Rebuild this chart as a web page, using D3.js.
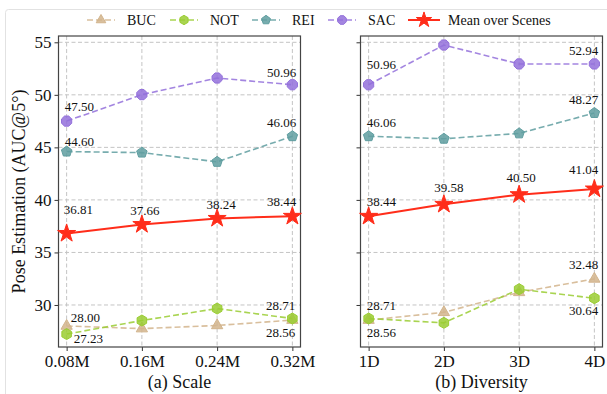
<!DOCTYPE html>
<html>
<head>
<meta charset="utf-8">
<script src="https://cdn.jsdelivr.net/npm/d3@7"></script>
<style>
  body { margin: 0; background: #fff; }
  svg { display: block; font-family: "Liberation Serif", "Times New Roman", serif; }
</style>
</head>
<body>
<div id="chart"></div>
<script>
// ---- data ----
const seriesNames = ['BUC', 'NOT', 'REI', 'SAC', 'Mean over Scenes'];

const scaleCats = ['0.08M', '0.16M', '0.24M', '0.32M'];
const scaleBUC  = [28.00, 27.75, 28.05, 28.56];
const scaleNOT  = [27.23, 28.52, 29.66, 28.71];
const scaleREI  = [44.60, 44.50, 43.62, 46.06];
const scaleSAC  = [47.50, 50.02, 51.60, 50.96];
const scaleMean = [36.81, 37.66, 38.24, 38.44];

const divCats = ['1D', '2D', '3D', '4D'];
const divBUC  = [28.56, 29.30, 31.20, 32.48];
const divNOT  = [28.71, 28.30, 31.50, 30.64];
const divREI  = [46.06, 45.82, 46.33, 48.27];
const divSAC  = [50.96, 54.74, 52.94, 52.94];
const divMean = [38.44, 39.58, 40.50, 41.04];

const yTicks = [30, 35, 40, 45, 50, 55];
const yDomain = [26.0, 55.6];

// ---- styling ----
const W = 607, H = 394;
const plotTop = 36, plotBottom = 347;
const panels = [
  { x0: 58.5, x1: 300.5, title: '(a) Scale', cats: scaleCats,
    values: [scaleBUC, scaleNOT, scaleREI, scaleSAC, scaleMean], yLabels: true },
  { x0: 360.5, x1: 602.5, title: '(b) Diversity', cats: divCats,
    values: [divBUC, divNOT, divREI, divSAC, divMean], yLabels: false }
];

const styles = [
  { color: '#d2b48c', marker: 'triangle', dash: '6,3', width: 1.6, r: 6.5 },
  { color: '#9acd32', marker: 'hexagon',  dash: '6,3', width: 1.6, r: 5.5 },
  { color: '#5f9ea0', marker: 'pentagon', dash: '6,3', width: 1.6, r: 5.5 },
  { color: '#9370db', marker: 'octagon',  dash: '6,3', width: 1.6, r: 5.5 },
  { color: '#ff2d1a', marker: 'star',     dash: null,  width: 2.0, r: 9.5 }
];

// label placement per panel: [seriesIndex, pointIndex, anchor, dx, dy]
const labelPlacement = [
  [
    [3, 0, 'start', -2, -10], [3, 3, 'end', 4, -8],
    [2, 0, 'start', -2, -6],  [2, 3, 'end', 4, -9],
    [4, 0, 'start', -3, -19], [4, 1, 'middle', 3, -9], [4, 2, 'middle', 4, -9], [4, 3, 'end', 4, -10],
    [1, 0, 'start', 7, 9],    [1, 3, 'end', 3, -9],
    [0, 0, 'start', 4, -4],   [0, 3, 'end', 3, 17]
  ],
  [
    [3, 0, 'start', -2, -16], [3, 3, 'end', 4, -9],
    [2, 0, 'start', -2, -9],  [2, 3, 'end', 4, -9],
    [4, 0, 'start', -2, -10], [4, 1, 'middle', 5, -12], [4, 2, 'middle', 2, -13], [4, 3, 'end', 4, -15],
    [1, 0, 'start', -2, -9],  [1, 3, 'end', 4, 17],
    [0, 0, 'start', -2, 17],  [0, 3, 'end', 4, -10]
  ]
];

function polygon(n, r, rot) {
  const pts = d3.range(n).map(i => {
    const a = rot + i * 2 * Math.PI / n;
    return [r * Math.sin(a), -r * Math.cos(a)];
  });
  return 'M' + pts.map(p => p.join(',')).join('L') + 'Z';
}

function markerPath(kind, r) {
  if (kind === 'triangle') return polygon(3, r, 0);
  if (kind === 'hexagon') return polygon(6, r, 0);
  if (kind === 'pentagon') return polygon(5, r, 0);
  if (kind === 'octagon') return polygon(8, r, Math.PI / 8);
  return d3.symbol(d3.symbolStar, r * r / 0.8908)();
}

const svg = d3.select('#chart').append('svg')
  .attr('width', W).attr('height', H);

// outer frame (legend box)
svg.append('rect')
  .attr('x', 5.5).attr('y', 9.5).attr('width', 700).attr('height', 500)
  .attr('rx', 3)
  .attr('fill', 'none').attr('stroke', '#e2e2e2').attr('stroke-width', 1);

const y = d3.scaleLinear().domain(yDomain).range([plotBottom, plotTop]);

panels.forEach((p, pi) => {
  const x = d3.scalePoint().domain(p.cats).range([p.x0, p.x1]).padding(0.108);
  const g = svg.append('g');

  // grid
  g.append('g').selectAll('line.gx').data(p.cats).join('line')
    .attr('x1', d => x(d)).attr('x2', d => x(d))
    .attr('y1', plotTop).attr('y2', plotBottom)
    .attr('stroke', '#c4c4c4').attr('stroke-width', 1).attr('stroke-dasharray', '4,2.5');
  g.append('g').selectAll('line.gy').data(yTicks).join('line')
    .attr('x1', p.x0).attr('x2', p.x1)
    .attr('y1', d => y(d)).attr('y2', d => y(d))
    .attr('stroke', '#c4c4c4').attr('stroke-width', 1).attr('stroke-dasharray', '4,2.5');

  // axes
  const yAxis = d3.axisLeft(y).tickValues(yTicks).tickSize(4).tickPadding(3)
    .tickFormat(p.yLabels ? d3.format('d') : () => '');
  const ya = g.append('g').attr('transform', `translate(${p.x0},0)`).call(yAxis);
  const xa = g.append('g').attr('transform', `translate(0,${plotBottom})`)
    .call(d3.axisBottom(x).tickSize(4).tickPadding(4));
  [ya, xa].forEach(a => {
    a.attr('font-family', null);
    a.select('.domain').remove();
    a.selectAll('line').attr('stroke', '#333').attr('stroke-width', 1);
    a.selectAll('text').attr('fill', '#111').style('font-size', '17px');
  });

  // frame
  g.append('rect')
    .attr('x', p.x0).attr('y', plotTop)
    .attr('width', p.x1 - p.x0).attr('height', plotBottom - plotTop)
    .attr('fill', 'none').attr('stroke', '#444').attr('stroke-width', 1.2);

  // series
  p.values.forEach((vals, si) => {
    const s = styles[si];
    const line = d3.line().x((d, i) => x(p.cats[i])).y(d => y(d));
    g.append('path').datum(vals)
      .attr('d', line)
      .attr('fill', 'none').attr('stroke', s.color)
      .attr('stroke-opacity', si === 4 ? 1 : 0.85)
      .attr('stroke-width', s.width)
      .attr('stroke-dasharray', s.dash);
    g.append('g').selectAll('path').data(vals).join('path')
      .attr('transform', (d, i) => `translate(${x(p.cats[i])},${y(d)})`)
      .attr('d', markerPath(s.marker, s.r))
      .attr('fill', s.color).attr('fill-opacity', si === 4 ? 1 : 0.85)
      .attr('stroke', s.color).attr('stroke-width', 1);
  });

  // value labels
  g.append('g').selectAll('text').data(labelPlacement[pi]).join('text')
    .attr('x', d => x(p.cats[d[1]]) + d[3])
    .attr('y', d => y(p.values[d[0]][d[1]]) + d[4])
    .attr('text-anchor', d => d[2])
    .attr('fill', '#111').style('font-size', '13px')
    .text(d => p.values[d[0]][d[1]].toFixed(2));

  // panel title
  svg.append('text')
    .attr('x', (p.x0 + p.x1) / 2).attr('y', 388)
    .attr('text-anchor', 'middle').attr('fill', '#111')
    .style('font-size', '18px').text(p.title);
});

// y label
svg.append('text')
  .attr('transform', `translate(25,${(plotTop + plotBottom) / 2}) rotate(-90)`)
  .attr('text-anchor', 'middle').attr('fill', '#111')
  .style('font-size', '18px').text('Pose Estimation (AUC@5°)');

// legend
const legendX = [87, 170, 252, 328, 408];
const legend = svg.append('g');
seriesNames.forEach((name, i) => {
  const s = styles[i];
  const lx = legendX[i], ly = 20;
  const len = i === 4 ? 32 : 28;
  legend.append('line')
    .attr('x1', lx).attr('x2', lx + len).attr('y1', ly).attr('y2', ly)
    .attr('stroke', s.color).attr('stroke-width', s.width)
    .attr('stroke-opacity', i === 4 ? 1 : 0.85)
    .attr('stroke-dasharray', s.dash);
  legend.append('path')
    .attr('transform', `translate(${lx + len / 2},${ly})`)
    .attr('d', markerPath(s.marker, s.r * 0.85))
    .attr('fill', s.color).attr('fill-opacity', i === 4 ? 1 : 0.85)
    .attr('stroke', s.color);
  legend.append('text')
    .attr('x', lx + 40).attr('y', 25)
    .attr('fill', '#111').style('font-size', '14px').text(name);
});
</script>
</body>
</html>
